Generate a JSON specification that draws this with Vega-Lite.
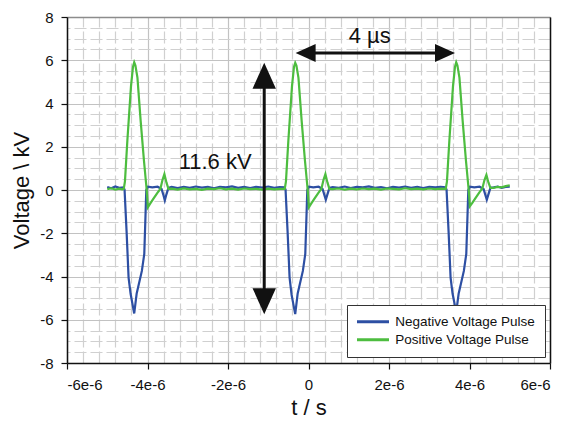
{
  "$schema": "https://vega.github.io/schema/vega-lite/v6.json",
  "width": 483,
  "height": 346,
  "autosize": {"type": "none"},
  "padding": {"left": 67, "top": 17, "right": 22, "bottom": 58},
  "background": "white",
  "config": {
    "view": {"stroke": null},
    "font": "Liberation Sans",
    "text": {"font": "Liberation Sans"},
    "legend": {
      "orient": "none",
      "legendX": 280,
      "legendY": 288,
      "title": null,
      "strokeColor": "#333333",
      "fillColor": "white",
      "padding": 10,
      "symbolType": "M-3.2,0L3.2,0",
      "symbolSize": 100,
      "symbolStrokeWidth": 3,
      "symbolOffset": 9.25,
      "labelOffset": 15.5,
      "labelFont": "Liberation Sans",
      "labelFontSize": 13.5,
      "labelColor": "#111111",
      "rowPadding": 3,
      "labelLimit": 300
    }
  },
  "datasets": {
    "neg": [
      {"t": -5.0, "v": 0.14}, {"t": -4.9, "v": 0.08}, {"t": -4.8, "v": 0.16}, {"t": -4.7, "v": 0.1},
      {"t": -4.6, "v": 0.12}, {"t": -4.57, "v": 0.02}, {"t": -4.52, "v": -1.9}, {"t": -4.47, "v": -4.05}, {"t": -4.42, "v": -4.8}, {"t": -4.33, "v": -5.71}, {"t": -4.27, "v": -4.8}, {"t": -4.14, "v": -3.74}, {"t": -4.08, "v": -2.96}, {"t": -4.05, "v": -1.2}, {"t": -4.03, "v": 0.0}, {"t": -3.99, "v": 0.15}, {"t": -3.88, "v": 0.12}, {"t": -3.75, "v": 0.15}, {"t": -3.65, "v": 0.05}, {"t": -3.61, "v": -0.2}, {"t": -3.57, "v": -0.48}, {"t": -3.53, "v": -0.2}, {"t": -3.48, "v": 0.1},
      {"t": -3.4, "v": 0.14}, {"t": -3.25, "v": 0.09}, {"t": -3.1, "v": 0.15}, {"t": -2.95, "v": 0.1}, {"t": -2.8, "v": 0.16}, {"t": -2.65, "v": 0.11}, {"t": -2.5, "v": 0.14}, {"t": -2.35, "v": 0.08}, {"t": -2.2, "v": 0.15}, {"t": -2.05, "v": 0.12}, {"t": -1.9, "v": 0.17}, {"t": -1.75, "v": 0.1}, {"t": -1.6, "v": 0.14}, {"t": -1.45, "v": 0.09}, {"t": -1.3, "v": 0.15}, {"t": -1.15, "v": 0.11}, {"t": -1.0, "v": 0.16}, {"t": -0.85, "v": 0.1}, {"t": -0.72, "v": 0.13},
      {"t": -0.6, "v": 0.12}, {"t": -0.57, "v": 0.02}, {"t": -0.52, "v": -1.9}, {"t": -0.47, "v": -4.05}, {"t": -0.42, "v": -4.85}, {"t": -0.33, "v": -5.74}, {"t": -0.27, "v": -4.8}, {"t": -0.14, "v": -3.74}, {"t": -0.08, "v": -2.96}, {"t": -0.05, "v": -1.2}, {"t": -0.03, "v": 0.0}, {"t": 0.01, "v": 0.15}, {"t": 0.12, "v": 0.12}, {"t": 0.25, "v": 0.15}, {"t": 0.35, "v": 0.05}, {"t": 0.39, "v": -0.2}, {"t": 0.43, "v": -0.45}, {"t": 0.47, "v": -0.2}, {"t": 0.52, "v": 0.1},
      {"t": 0.6, "v": 0.13}, {"t": 0.75, "v": 0.1}, {"t": 0.9, "v": 0.16}, {"t": 1.05, "v": 0.09}, {"t": 1.2, "v": 0.14}, {"t": 1.35, "v": 0.12}, {"t": 1.5, "v": 0.17}, {"t": 1.65, "v": 0.1}, {"t": 1.8, "v": 0.13}, {"t": 1.95, "v": 0.08}, {"t": 2.1, "v": 0.15}, {"t": 2.25, "v": 0.11}, {"t": 2.4, "v": 0.16}, {"t": 2.55, "v": 0.1}, {"t": 2.7, "v": 0.14}, {"t": 2.85, "v": 0.09}, {"t": 3.0, "v": 0.15}, {"t": 3.15, "v": 0.12}, {"t": 3.28, "v": 0.14},
      {"t": 3.4, "v": 0.12}, {"t": 3.43, "v": 0.02}, {"t": 3.48, "v": -1.9}, {"t": 3.53, "v": -4.05}, {"t": 3.58, "v": -4.8}, {"t": 3.67, "v": -5.65}, {"t": 3.73, "v": -4.8}, {"t": 3.86, "v": -3.74}, {"t": 3.92, "v": -2.96}, {"t": 3.95, "v": -1.2}, {"t": 3.97, "v": 0.0}, {"t": 4.01, "v": 0.15}, {"t": 4.12, "v": 0.12}, {"t": 4.25, "v": 0.15}, {"t": 4.35, "v": 0.05}, {"t": 4.39, "v": -0.2}, {"t": 4.43, "v": -0.45}, {"t": 4.47, "v": -0.2}, {"t": 4.52, "v": 0.1},
      {"t": 4.6, "v": 0.12}, {"t": 4.7, "v": 0.16}, {"t": 4.8, "v": 0.1}, {"t": 4.9, "v": 0.14}, {"t": 5.0, "v": 0.15}
    ],
    "pos": [
      {"t": -5.0, "v": 0.04}, {"t": -4.9, "v": 0.08}, {"t": -4.8, "v": 0.02}, {"t": -4.7, "v": 0.06}, {"t": -4.63, "v": 0.03},
      {"t": -4.59, "v": 0.05}, {"t": -4.56, "v": 0.4}, {"t": -4.5, "v": 2.3}, {"t": -4.41, "v": 4.8}, {"t": -4.36, "v": 5.7}, {"t": -4.33, "v": 5.9}, {"t": -4.3, "v": 5.75}, {"t": -4.25, "v": 5.2}, {"t": -4.17, "v": 3.2}, {"t": -4.09, "v": 1.4}, {"t": -4.02, "v": 0.0}, {"t": -3.99, "v": -0.8}, {"t": -3.93, "v": -0.62}, {"t": -3.86, "v": -0.42}, {"t": -3.75, "v": -0.12}, {"t": -3.68, "v": 0.05}, {"t": -3.63, "v": 0.45}, {"t": -3.58, "v": 0.74}, {"t": -3.53, "v": 0.35}, {"t": -3.48, "v": 0.05},
      {"t": -3.4, "v": 0.06}, {"t": -3.25, "v": 0.02}, {"t": -3.1, "v": 0.07}, {"t": -2.95, "v": 0.03}, {"t": -2.8, "v": 0.05}, {"t": -2.65, "v": 0.01}, {"t": -2.5, "v": 0.06}, {"t": -2.35, "v": 0.04}, {"t": -2.2, "v": 0.08}, {"t": -2.05, "v": 0.03}, {"t": -1.9, "v": 0.06}, {"t": -1.75, "v": 0.02}, {"t": -1.6, "v": 0.07}, {"t": -1.45, "v": 0.04}, {"t": -1.3, "v": 0.05}, {"t": -1.15, "v": 0.02}, {"t": -1.0, "v": 0.06}, {"t": -0.85, "v": 0.03}, {"t": -0.7, "v": 0.05},
      {"t": -0.59, "v": 0.05}, {"t": -0.56, "v": 0.4}, {"t": -0.5, "v": 2.3}, {"t": -0.41, "v": 4.8}, {"t": -0.36, "v": 5.7}, {"t": -0.33, "v": 5.88}, {"t": -0.3, "v": 5.75}, {"t": -0.25, "v": 5.2}, {"t": -0.17, "v": 3.2}, {"t": -0.09, "v": 1.4}, {"t": -0.02, "v": 0.0}, {"t": 0.01, "v": -0.8}, {"t": 0.07, "v": -0.62}, {"t": 0.14, "v": -0.42}, {"t": 0.25, "v": -0.12}, {"t": 0.32, "v": 0.05}, {"t": 0.37, "v": 0.45}, {"t": 0.42, "v": 0.74}, {"t": 0.47, "v": 0.35}, {"t": 0.52, "v": 0.05},
      {"t": 0.6, "v": 0.04}, {"t": 0.75, "v": 0.07}, {"t": 0.9, "v": 0.02}, {"t": 1.05, "v": 0.06}, {"t": 1.2, "v": 0.03}, {"t": 1.35, "v": 0.07}, {"t": 1.5, "v": 0.04}, {"t": 1.65, "v": 0.06}, {"t": 1.8, "v": 0.02}, {"t": 1.95, "v": 0.07}, {"t": 2.1, "v": 0.05}, {"t": 2.25, "v": 0.03}, {"t": 2.4, "v": 0.08}, {"t": 2.55, "v": 0.04}, {"t": 2.7, "v": 0.06}, {"t": 2.85, "v": 0.03}, {"t": 3.0, "v": 0.07}, {"t": 3.15, "v": 0.04}, {"t": 3.3, "v": 0.06},
      {"t": 3.41, "v": 0.05}, {"t": 3.44, "v": 0.4}, {"t": 3.5, "v": 2.3}, {"t": 3.59, "v": 4.8}, {"t": 3.64, "v": 5.7}, {"t": 3.67, "v": 5.9}, {"t": 3.7, "v": 5.75}, {"t": 3.75, "v": 5.2}, {"t": 3.83, "v": 3.2}, {"t": 3.91, "v": 1.4}, {"t": 3.98, "v": 0.0}, {"t": 4.01, "v": -0.75}, {"t": 4.07, "v": -0.6}, {"t": 4.14, "v": -0.4}, {"t": 4.25, "v": -0.1}, {"t": 4.32, "v": 0.08}, {"t": 4.37, "v": 0.45}, {"t": 4.42, "v": 0.7}, {"t": 4.47, "v": 0.35}, {"t": 4.52, "v": 0.1},
      {"t": 4.6, "v": 0.1}, {"t": 4.7, "v": 0.14}, {"t": 4.8, "v": 0.12}, {"t": 4.9, "v": 0.18}, {"t": 5.0, "v": 0.22}
    ],
    "shafts": [
      {"t": -1.1, "t2": -1.1, "v": -5.3, "v2": 5.4},
      {"t": -0.1, "t2": 3.4, "v": 6.34, "v2": 6.34}
    ],
    "heads": [
      {"t": -1.1, "v": 5.88, "d": "up"},
      {"t": -1.1, "v": -5.74, "d": "down"},
      {"t": -0.32, "v": 6.34, "d": "left"},
      {"t": 3.64, "v": 6.34, "d": "right"}
    ],
    "notes": [
      {"t": -2.32, "v": 0.97, "label": "11.6 kV"},
      {"t": 1.52, "v": 6.79, "label": "4 µs"}
    ]
  },
  "layer": [
    {
      "data": {"name": "neg"},
      "mark": {"type": "line", "strokeWidth": 2.2},
      "encoding": {
        "x": {
          "field": "t", "type": "quantitative",
          "scale": {"domain": [-6, 6], "nice": false, "zero": false},
          "axis": {
            "orient": "top",
            "values": [-5.6, -5.2, -4.8, -4.4, -3.6, -3.2, -2.8, -2.4, -1.6, -1.2, -0.8, -0.4, 0.4, 0.8, 1.2, 1.6, 2.4, 2.8, 3.2, 3.6, 4.4, 4.8, 5.2, 5.6],
            "grid": true, "gridDash": [12, 4], "gridColor": "#d0d0d0", "gridWidth": 1.2,
            "labels": false, "ticks": false,
            "domain": true, "domainColor": "#8c8c8c", "domainWidth": 1.5,
            "title": null
          }
        },
        "y": {
          "field": "v", "type": "quantitative",
          "scale": {"domain": [-8, 8], "nice": false, "zero": false},
          "axis": {
            "orient": "right",
            "values": [-7.5, -7, -6.5, -5.5, -5, -4.5, -3.5, -3, -2.5, -1.5, -1, -0.5, 0.5, 1, 1.5, 2.5, 3, 3.5, 4.5, 5, 5.5, 6.5, 7, 7.5],
            "grid": true, "gridDash": [12, 4], "gridColor": "#d0d0d0", "gridWidth": 1.2,
            "labels": false, "ticks": false,
            "domain": true, "domainColor": "#111111", "domainWidth": 1.5,
            "title": null
          }
        },
        "color": {
          "datum": "Negative Voltage Pulse", "type": "nominal",
          "scale": {"domain": ["Negative Voltage Pulse", "Positive Voltage Pulse"], "range": ["#2d4fa3", "#4dbd3f"]}
        }
      }
    },
    {
      "data": {"name": "pos"},
      "mark": {"type": "line", "strokeWidth": 2.2},
      "encoding": {
        "x": {
          "field": "t", "type": "quantitative",
          "axis": {
            "orient": "bottom",
            "values": [-6, -4, -2, 0, 2, 4, 6],
            "labelExpr": "datum.value == 0 ? '0' : datum.value + 'e-6'",
            "grid": true, "gridColor": "#c2c2c2", "gridWidth": 1.2,
            "ticks": true, "tickSize": 6, "tickColor": "#111111", "tickWidth": 1.2,
            "domain": true, "domainColor": "#111111", "domainWidth": 1.5,
            "labelFont": "Liberation Sans", "labelFontSize": 15, "labelColor": "#111111", "labelPadding": 8,
            "title": "t / s", "titleFont": "Liberation Sans", "titleFontSize": 22, "titleFontWeight": "normal", "titleColor": "#111111", "titlePadding": 5
          }
        },
        "y": {
          "field": "v", "type": "quantitative",
          "axis": {
            "orient": "left",
            "values": [-8, -6, -4, -2, 0, 2, 4, 6, 8],
            "labelExpr": "'' + datum.value",
            "grid": true, "gridColor": "#c2c2c2", "gridWidth": 1.2,
            "ticks": true, "tickSize": 6, "tickColor": "#111111", "tickWidth": 1.2,
            "domain": true, "domainColor": "#111111", "domainWidth": 1.5,
            "labelFont": "Liberation Sans", "labelFontSize": 15, "labelColor": "#111111", "labelPadding": 8,
            "title": "Voltage \\ kV", "titleFont": "Liberation Sans", "titleFontSize": 22, "titleFontWeight": "normal", "titleColor": "#111111", "titlePadding": 6
          }
        },
        "color": {"datum": "Positive Voltage Pulse", "type": "nominal"}
      }
    },
    {
      "data": {"name": "shafts"},
      "mark": {"type": "rule", "color": "#111111", "strokeWidth": 3},
      "encoding": {
        "x": {"field": "t", "type": "quantitative", "axis": null},
        "x2": {"field": "t2"},
        "y": {"field": "v", "type": "quantitative", "axis": null},
        "y2": {"field": "v2"}
      }
    },
    {
      "data": {"name": "heads"},
      "mark": {"type": "point", "filled": true, "color": "#111111", "opacity": 1, "size": 400, "strokeWidth": 0},
      "encoding": {
        "x": {"field": "t", "type": "quantitative", "axis": null},
        "y": {"field": "v", "type": "quantitative", "axis": null},
        "shape": {
          "field": "d", "type": "nominal",
          "scale": {"domain": ["up", "down", "left", "right"], "range": ["M0,0L-1.17,2.6L1.17,2.6Z", "M0,0L-1.17,-2.6L1.17,-2.6Z", "M0,0L2,-0.9L2,0.9Z", "M0,0L-2,-0.9L-2,0.9Z"]},
          "legend": null
        }
      }
    },
    {
      "data": {"name": "notes"},
      "mark": {"type": "text", "font": "Liberation Sans", "fontSize": 22, "align": "center", "baseline": "alphabetic", "color": "#111111"},
      "encoding": {
        "x": {"field": "t", "type": "quantitative", "axis": null},
        "y": {"field": "v", "type": "quantitative", "axis": null},
        "text": {"field": "label"}
      }
    }
  ],
  "resolve": {"axis": {"x": "independent", "y": "independent"}}
}
